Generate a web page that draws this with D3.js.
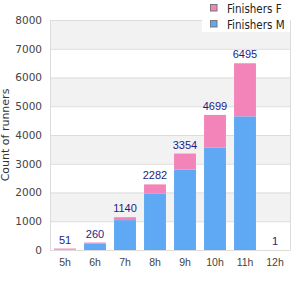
<!DOCTYPE html>
<html>
<head>
<meta charset="utf-8">
<script src="https://cdn.jsdelivr.net/npm/d3@7"></script>
<style>
	body { margin: 0; background: #fff; }
	svg { display: block; font-family: "DejaVu Sans", sans-serif; }
</style>
</head>
<body>
<svg id="chart" width="300" height="300"></svg>
<script>
const hours = ['5h', '6h', '7h', '8h', '9h', '10h', '11h', '12h'];
const finishersM = [10, 230, 1040, 1957, 2800, 3560, 4650, 1];
const finishersF = [41, 30, 100, 325, 554, 1139, 1845, 0];
const totals = [51, 260, 1140, 2282, 3354, 4699, 6495, 1];
const yTicks = [0, 1000, 2000, 3000, 4000, 5000, 6000, 7000, 8000];

const colorM = '#5fa8f3';
const colorF = '#f384ba';

const svg = d3.select('#chart');
const plotLeft = 50, plotRight = 290, plotTop = 20, plotBottom = 250;

const x = d3.scaleBand().domain(hours).range([plotLeft, plotRight]).paddingInner(0.27).paddingOuter(0.135);
const y = d3.scaleLinear().domain([0, 8000]).range([plotBottom, plotTop]);

// alternating background bands
const bands = svg.append('g');
yTicks.slice(0, -1).forEach((t, i) => {
	if (i % 2 === 1) {
		bands.append('rect')
			.attr('x', plotLeft).attr('width', plotRight - plotLeft)
			.attr('y', y(t + 1000)).attr('height', y(t) - y(t + 1000))
			.attr('fill', '#f2f2f2');
	}
});

// grid lines
svg.append('g')
	.selectAll('line')
	.data(yTicks)
	.enter()
	.append('line')
		.attr('x1', plotLeft).attr('x2', plotRight)
		.attr('y1', d => y(d) + 0.5).attr('y2', d => y(d) + 0.5)
		.attr('stroke', '#dcdcdc');

// frame
svg.append('line').attr('x1', plotLeft + 0.5).attr('x2', plotLeft + 0.5).attr('y1', plotTop).attr('y2', plotBottom)
	.attr('stroke', '#dcdcdc');
svg.append('line').attr('x1', plotRight + 0.5).attr('x2', plotRight + 0.5).attr('y1', plotTop).attr('y2', plotBottom)
	.attr('stroke', '#dcdcdc');

// stacked bars
const rows = hours.map((h, i) => ({ hour: h, M: finishersM[i], F: finishersF[i] }));
const stack = d3.stack().keys(['M', 'F'])(rows);
const colors = { M: colorM, F: colorF };

svg.append('g')
	.selectAll('g')
	.data(stack)
	.enter()
	.append('g')
		.attr('fill', d => colors[d.key])
	.selectAll('rect')
	.data(d => d)
	.enter()
	.append('rect')
		.attr('x', d => x(d.data.hour))
		.attr('width', x.bandwidth())
		.attr('y', d => y(d[1]))
		.attr('height', d => y(d[0]) - y(d[1]));

// total labels
svg.append('g')
	.selectAll('text')
	.data(totals)
	.enter()
	.append('text')
		.attr('x', (d, i) => x(hours[i]) + x.bandwidth() / 2)
		.attr('y', d => y(d) - 5)
		.attr('text-anchor', 'middle')
		.attr('font-family', '"Liberation Sans", Arial, sans-serif')
		.attr('font-size', 11)
		.attr('fill', '#1c1c8a')
		.text(d => d);

// axes
const xAxis = svg.append('g')
	.attr('transform', `translate(0,${plotBottom})`)
	.call(d3.axisBottom(x).tickSize(0).tickPadding(9));
xAxis.select('.domain').attr('stroke', '#dcdcdc');
xAxis.selectAll('text').attr('font-size', 10.5).attr('fill', '#444')
	.attr('font-family', '"Liberation Sans", Arial, sans-serif');

const yAxis = svg.append('g')
	.attr('transform', `translate(${plotLeft},0)`)
	.call(d3.axisLeft(y).tickValues(yTicks).tickSize(0).tickPadding(8).tickFormat(d3.format('d')));
yAxis.select('.domain').remove();
yAxis.selectAll('text').attr('font-size', 10.5).attr('fill', '#444').attr('font-family', '"DejaVu Sans", sans-serif');

svg.append('text')
	.attr('transform', `translate(9,${(plotTop + plotBottom) / 2}) rotate(-90)`)
	.attr('text-anchor', 'middle')
	.attr('font-size', 11)
	.attr('fill', '#333')
	.text('Count of runners');

// legend
const legend = svg.append('g');
legend.append('rect').attr('x', 202).attr('y', 0).attr('width', 88).attr('height', 32).attr('fill', '#fff');
const legendItems = [['Finishers F', colorF], ['Finishers M', colorM]];
legendItems.forEach(([label, c], i) => {
	legend.append('rect')
		.attr('x', 210.5).attr('y', 4.5 + i * 16)
		.attr('width', 6.5).attr('height', 6.5)
		.attr('fill', c).attr('stroke', '#777');
	legend.append('text')
		.attr('x', 227).attr('y', 12.5 + i * 16)
		.attr('font-family', '"DejaVu Sans Condensed", "DejaVu Sans", sans-serif')
		.attr('font-stretch', 'condensed')
		.attr('font-size', 11.5)
		.attr('fill', '#222')
		.text(label);
});
</script>
</body>
</html>
